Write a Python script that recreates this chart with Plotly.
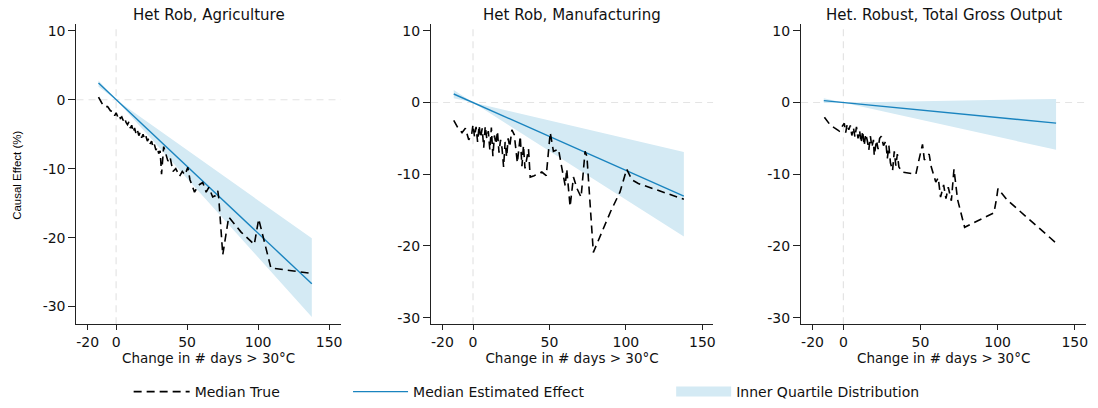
import plotly.graph_objects as go

# ---------------- data ----------------
titles = ["Het Rob, Agriculture", "Het Rob, Manufacturing", "Het. Robust, Total Gross Output"]
x_label = "Change in # days > 30°C"
y_label = "Causal Effect (%)"
legend_names = ["Median True", "Median Estimated Effect", "Inner Quartile Distribution"]
x_ticks = [-20, 0, 50, 100, 150]
x_tick_text = ["-20", "0", "50", "100", "150"]
y_ticks = [10, 0, -10, -20, -30]
y_tick_text = ["10", "0", "-10", "-20", "-30"]

# Agriculture
ag_true_x = [-12.4, -10, -8, -6, -4, -2, -1, 0, 1, 2, 3, 4, 5, 6, 7, 8, 9, 10, 11, 12, 13, 14, 15, 16,
             17, 18, 19, 20, 21, 22, 23, 24, 25, 26, 27, 28, 29, 30, 31, 32, 33.5, 35, 36.5, 38, 40, 42,
             44.7, 46.6, 48.5, 50.5, 52, 55.2, 58, 61, 63.4, 65.3, 68, 70, 71.6, 72.3, 75.1, 79.3, 88,
             97.3, 100.4, 109, 125, 137.8]
ag_true_y = [0.4, -0.5, -1.0, -1.0, -1.6, -1.7, -2.3, -1.9, -2.4, -2.1, -2.7, -2.5, -3.0, -2.6, -3.3,
             -3.6, -3.2, -4.1, -3.7, -4.7, -4.1, -4.9, -4.4, -5.2, -4.7, -5.5, -5.0, -5.7, -5.3, -6.0,
             -5.6, -6.4, -6.0, -6.9, -6.5, -7.3, -6.9, -7.8, -7.4, -10.8, -6.8, -8.0, -8.9, -8.3, -10.4,
             -10.0, -11.1, -10.4, -10.9, -9.8, -11.6, -13.4, -12.4, -12.0, -13.4, -12.7, -14.1, -13.9,
             -13.2, -14.3, -22.5, -17.0, -19.2, -21.0, -17.3, -24.4, -24.9, -25.2]
ag_est_x = [-12.4, 137.8]
ag_est_y = [2.45, -26.7]
ag_band_x = [-12.4, 0, 137.8]
ag_band_a = [1.9, 0, -20.1]
ag_band_b = [2.8, 0, -31.5]

# Manufacturing
mf_true_x = [-12.6, -10, -7.2, -5, -2.8, -1, 0, 1, 2, 3, 4, 5, 6, 7, 8, 9, 10, 11, 12, 13, 14, 15, 16,
             17, 18, 19, 20, 21, 22, 23, 24, 25.4, 27, 28, 29, 30.9, 32, 33, 34, 36.3, 37.4, 40, 42, 45,
             47.9, 50.5, 52.6, 55.9, 58, 60.3, 61.3, 63.5, 65.7, 68, 70.7, 72.5, 73.3, 74.5, 78.7, 90,
             96.1, 100.5, 104, 108.1, 120, 137.9]
mf_true_y = [-2.5, -3.5, -4.2, -3.6, -5.2, -4.6, -3.1, -4.8, -3.4, -5.5, -3.2, -4.9, -3.6, -6.3, -3.3,
             -5.0, -4.0, -6.6, -3.5, -7.5, -4.6, -5.8, -4.0, -7.0, -5.2, -6.4, -9.0, -5.5, -7.6, -5.0,
             -6.2, -3.8, -4.5, -6.9, -8.4, -4.7, -8.9, -6.0, -9.2, -6.5, -10.4, -10.2, -10.0, -9.7,
             -10.2, -4.2, -6.8, -6.5, -9.0, -11.6, -9.3, -14.5, -10.4, -12.0, -13.2, -8.1, -6.8, -7.5,
             -20.9, -15.2, -12.5, -9.3, -10.8, -11.3, -12.2, -13.5]
mf_est_x = [-12.6, 137.9]
mf_est_y = [1.19, -13.07]
mf_band_x = [-12.6, 0, 137.9]
mf_band_a = [0.6, 0, -6.9]
mf_band_b = [1.75, 0, -18.7]

# Total gross output
to_true_x = [-12.3, -9, -6, -2.6, -1, 0.6, 1.5, 2.5, 3.5, 4.5, 5.5, 6.5, 7.5, 8.5, 9.5, 10.5, 11.5,
             12.5, 13.5, 14.5, 15.5, 16.5, 17.5, 18.5, 19.5, 20, 21.5, 22.5, 23.5, 24.6, 26, 27.5,
             28.5, 29.5, 30.5, 31.9, 33, 34, 35, 36, 38.3, 43, 47, 49, 51.3, 52.5, 55.6, 57, 59.9,
             61.5, 63, 65, 66.5, 68, 70, 71.7, 72.5, 74, 78.6, 97.6, 99.3, 100.2, 106.2, 137.9]
to_true_y = [-2.05, -3.0, -3.5, -4.0, -3.4, -2.9, -4.2, -3.0, -3.8, -3.2, -4.6, -3.5, -4.8, -3.4,
             -5.0, -3.9, -5.6, -4.0, -6.0, -4.4, -5.3, -6.6, -4.7, -6.2, -5.2, -7.4, -5.3, -6.5, -5.0,
             -4.7, -6.0, -5.4, -7.8, -6.0, -8.4, -9.5, -6.8, -8.8, -7.2, -9.0, -9.7, -9.9, -10.0, -8.0,
             -5.85, -8.0, -7.2, -9.0, -11.1, -10.5, -13.2, -11.5, -13.4, -11.8, -13.7, -9.3, -11.0,
             -13.5, -17.4, -15.4, -13.4, -12.0, -13.6, -19.6]
to_est_x = [-12.7, 137.9]
to_est_y = [0.27, -2.88]
to_band_x = [-12.7, 0, 137.9]
to_band_a = [-0.05, 0, 0.5]
to_band_b = [0.61, 0, -6.6]

# ---------------- styling ----------------
FONT = "DejaVu Sans"
BLUE = "#1a84bf"
FILL = "#d4eaf4"
TXT = "#111111"

panels = [
    (ag_true_x, ag_true_y, ag_est_x, ag_est_y, ag_band_x, ag_band_a, ag_band_b),
    (mf_true_x, mf_true_y, mf_est_x, mf_est_y, mf_band_x, mf_band_a, mf_band_b),
    (to_true_x, to_true_y, to_est_x, to_est_y, to_band_x, to_band_a, to_band_b),
]

W, H = 1098, 408
x_dom_px = [(76.7, 341.7), (432.3, 715.0), (803.3, 1089.3)]
y_dom_px = (22.7, 327.0)
x_ranges = [[-27.9, 158.2], [-27.4, 157.0], [-27.4, 157.5]]
y_ranges = [[-32.56, 10.94], [-30.92, 10.9], [-30.92, 10.9]]

fig = go.Figure()

for i, (tx, ty, ex, ey, bx, ba, bb) in enumerate(panels):
    xa = "x" if i == 0 else f"x{i+1}"
    ya = "y" if i == 0 else f"y{i+1}"
    fig.add_trace(go.Scatter(x=bx, y=ba, mode="lines", line=dict(width=0, color=FILL),
                             showlegend=False, hoverinfo="skip", xaxis=xa, yaxis=ya))
    fig.add_trace(go.Scatter(x=bx, y=bb, mode="lines", line=dict(width=0, color=FILL),
                             fill="tonexty", fillcolor=FILL, showlegend=False,
                             xaxis=xa, yaxis=ya))
    fig.add_trace(go.Scatter(x=ex, y=ey, mode="lines", line=dict(color=BLUE, width=1.4),
                             name=legend_names[1], showlegend=(i == 0), legend="legend2",
                             xaxis=xa, yaxis=ya))
    fig.add_trace(go.Scatter(x=tx, y=ty, mode="lines",
                             line=dict(color="black", width=1.6, dash="8px,5px"),
                             name=legend_names[0], showlegend=(i == 0), legend="legend",
                             xaxis=xa, yaxis=ya))

# legend-only swatch for the inner quartile band
fig.add_trace(go.Scatter(x=[None], y=[None], mode="lines", line=dict(color=FILL, width=17),
                         name=legend_names[2], showlegend=True, legend="legend3"))

layout = dict(
    width=W, height=H,
    margin=dict(l=0, r=0, t=0, b=0),
    paper_bgcolor="white", plot_bgcolor="white",
    font=dict(family=FONT, size=13, color=TXT),
    showlegend=True,
)

shapes = []
annotations = []
for i in range(3):
    sx = "" if i == 0 else str(i + 1)
    x0p, x1p = x_dom_px[i]
    layout["xaxis" + sx] = dict(
        domain=[x0p / W, x1p / W], range=x_ranges[i], anchor="y" + sx,
        tickmode="array", tickvals=x_ticks, ticktext=x_tick_text, ticks="outside", ticklen=5,
        tickwidth=1.2, tickcolor="#222", showline=True, linecolor="#222", linewidth=1.3,
        showgrid=False, zeroline=False, tickfont=dict(family=FONT, size=14, color=TXT),
        title=dict(text=x_label, font=dict(family=FONT, size=13.5, color=TXT), standoff=1),
    )
    layout["yaxis" + sx] = dict(
        domain=[1 - y_dom_px[1] / H, 1 - y_dom_px[0] / H], range=y_ranges[i], anchor="x" + sx,
        tickmode="array", tickvals=y_ticks, ticktext=y_tick_text, ticks="outside", ticklen=7,
        tickwidth=1.2, tickcolor="#222", showline=True, linecolor="#222", linewidth=1.3,
        showgrid=False, zeroline=False, tickfont=dict(family=FONT, size=14, color=TXT),
    )
    # reference lines at zero
    shapes.append(dict(type="line", xref=f"x{sx} domain", yref=f"y{sx}", x0=0, x1=1, y0=0, y1=0,
                       line=dict(color="#e4e4e4", width=1.2, dash="7px,5px"), layer="below"))
    shapes.append(dict(type="line", xref=f"x{sx}", yref=f"y{sx} domain", x0=0, x1=0, y0=0, y1=1,
                       line=dict(color="#e4e4e4", width=1.2, dash="7px,5px"), layer="below"))
    annotations.append(dict(text=titles[i], xref=f"x{sx} domain", yref="paper", x=0.5,
                            y=1 - 12.7 / H, xanchor="center", yanchor="middle", showarrow=False,
                            font=dict(family=FONT, size=15, color=TXT)))

annotations.append(dict(text=y_label, xref="paper", yref="paper", x=17 / W, y=1 - 175.5 / H,
                        xanchor="center", yanchor="middle", textangle=-90, showarrow=False,
                        font=dict(family="Liberation Sans", size=11.5, color="#000000")))

layout["shapes"] = shapes
layout["annotations"] = annotations

leg_common = dict(orientation="h", yanchor="middle", y=1 - 396 / H, xanchor="left",
                  bgcolor="rgba(0,0,0,0)", font=dict(family=FONT, size=14, color=TXT))
layout["legend"] = dict(leg_common, x=129 / W, itemwidth=56)
layout["legend2"] = dict(leg_common, x=349 / W, itemwidth=55)
layout["legend3"] = dict(leg_common, x=673 / W, itemwidth=55)

fig.update_layout(**layout)
fig.write_html("out.html")
